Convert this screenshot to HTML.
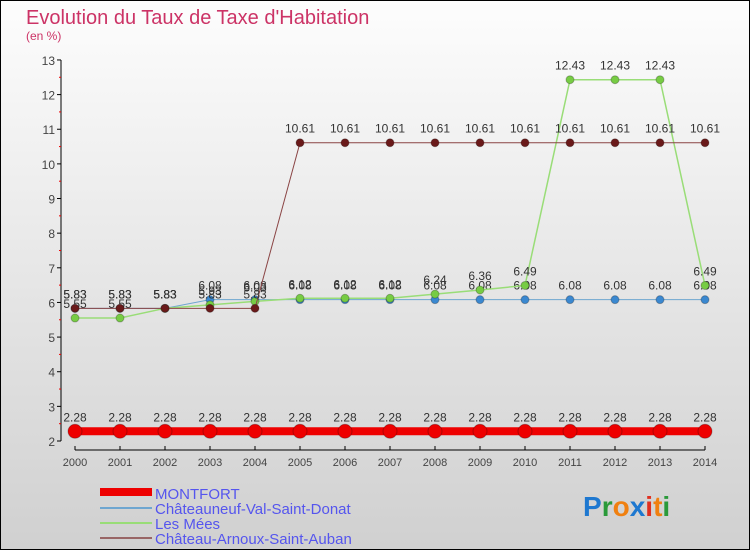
<!DOCTYPE html>
<html><head><meta charset="utf-8"><style>
body{margin:0;width:750px;height:550px;overflow:hidden}
svg{display:block;font-family:"Liberation Sans",sans-serif}
</style></head><body>
<svg id="c" width="750" height="550">
<defs><linearGradient id="bg" x1="0" y1="0" x2="0" y2="1"><stop offset="0" stop-color="#fdfdfd"/><stop offset="1" stop-color="#d0d0d0"/></linearGradient></defs>
<rect x="0.5" y="0.5" width="749" height="549" fill="url(#bg)" stroke="#000"/>
<text x="26" y="24" font-size="20" fill="#cc3366">Evolution du Taux de Taxe d'Habitation</text>
<text x="26" y="40" font-size="12" fill="#cc3366">(en %)</text>
<g id="axes"></g><g id="series"></g>
<g>
<rect x="100" y="488" width="52" height="8" fill="#e00"/>
<text x="155" y="499" font-size="15" fill="#5555ee">MONTFORT</text>
<line x1="100" y1="508" x2="152" y2="508" stroke="#6ea6d0" stroke-width="2"/>
<text x="155" y="514" font-size="15" fill="#5555ee">Châteauneuf-Val-Saint-Donat</text>
<line x1="100" y1="523" x2="152" y2="523" stroke="#99dd77" stroke-width="2"/>
<text x="155" y="529" font-size="15" fill="#5555ee">Les Mées</text>
<line x1="100" y1="538" x2="152" y2="538" stroke="#996666" stroke-width="2"/>
<text x="155" y="544" font-size="15" fill="#5555ee">Château-Arnoux-Saint-Auban</text>
</g>
<text x="583" y="516" font-size="28" font-weight="bold"><tspan fill="#1e78d0">P</tspan><tspan fill="#2a9a3a">r</tspan><tspan fill="#f08010">o</tspan><tspan fill="#1e78d0">x</tspan><tspan fill="#e03020">i</tspan><tspan fill="#f08010">t</tspan><tspan fill="#2a9a3a">i</tspan></text>
</svg>
<script>
const years=[2000,2001,2002,2003,2004,2005,2006,2007,2008,2009,2010,2011,2012,2013,2014];
const yTicks=[2,3,4,5,6,7,8,9,10,11,12,13];
const montfort=[2.28,2.28,2.28,2.28,2.28,2.28,2.28,2.28,2.28,2.28,2.28,2.28,2.28,2.28,2.28];
const chateauneuf=[5.83,5.83,5.83,6.08,6.08,6.08,6.08,6.08,6.08,6.08,6.08,6.08,6.08,6.08,6.08];
const lesMees=[5.55,5.55,5.83,5.93,6.03,6.12,6.12,6.12,6.24,6.36,6.49,12.43,12.43,12.43,6.49];
const chateauArnoux=[5.83,5.83,5.83,5.83,5.83,10.61,10.61,10.61,10.61,10.61,10.61,10.61,10.61,10.61,10.61];
const NS="http://www.w3.org/2000/svg";
const X=i=>75+i*45, Y=v=>441-(v-2)*34.64;
function mk(t,a,p){const e=document.createElementNS(NS,t);for(const k in a)e.setAttribute(k,a[k]);p.appendChild(e);return e;}
const ax=document.getElementById('axes'),sg=document.getElementById('series');
mk('line',{x1:61,y1:60,x2:61,y2:441,stroke:'#000'},ax);
mk('line',{x1:75,y1:450,x2:705,y2:450,stroke:'#000'},ax);
yTicks.forEach(v=>{mk('line',{x1:57,y1:Y(v),x2:61,y2:Y(v),stroke:'#000'},ax);
 if(v<13)mk('line',{x1:59,y1:Y(v+0.5),x2:61,y2:Y(v+0.5),stroke:'#e00'},ax);
 const t=mk('text',{x:55,y:Y(v)+5,'font-size':12,fill:'#444','text-anchor':'end'},ax);t.textContent=v;
 
 });
years.forEach((y,i)=>{mk('line',{x1:X(i),y1:446,x2:X(i),y2:450,stroke:'#000'},ax);
 const t=mk('text',{x:X(i),y:466,'font-size':11,fill:'#444','text-anchor':'middle'},ax);t.textContent=y;
 
 });
function series(data,color,w,r,fill,name){
 const g=mk('g',{},sg);
 
 
 mk('polyline',{points:data.map((v,i)=>X(i)+','+Y(v)).join(' '),fill:'none',stroke:color,'stroke-width':w},g);
 data.forEach((v,i)=>{const c=mk('circle',{cx:X(i),cy:Y(v),r:r,fill:fill,stroke:'rgba(0,0,0,0.25)'},g);
  
  
  const t=mk('text',{x:X(i),y:Y(v)-10,'font-size':12,fill:'#333','text-anchor':'middle'},g);t.textContent=v.toFixed(2);
  
  });
}
series(montfort,'#e00',8,7,'#e00','series-montfort');
series(chateauneuf,'#6ea6d0',1,4,'#3a88d0','series-chateauneuf');
series(lesMees,'#99dd77',1.5,4,'#77cc44','series-les-mees');
series(chateauArnoux,'#8a4444',1,4,'#6a1a1a','series-chateau-arnoux');
</script>
</body></html>
